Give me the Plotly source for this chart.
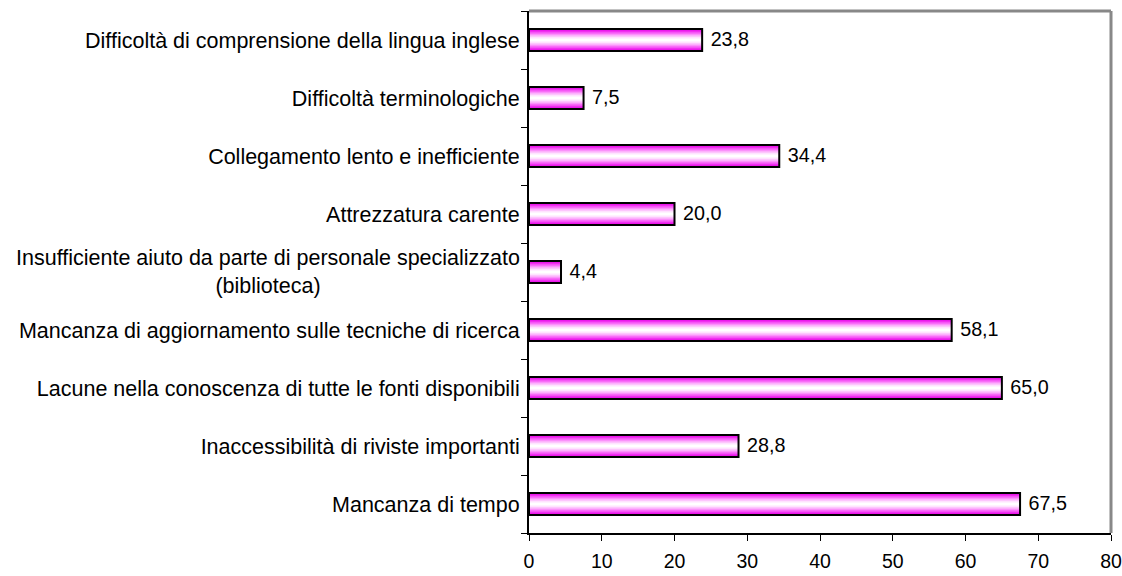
import plotly.graph_objects as go

categorie = [
    "Mancanza di tempo",
    "Inaccessibilità di riviste importanti",
    "Lacune nella conoscenza di tutte le fonti disponibili",
    "Mancanza di aggiornamento sulle tecniche di ricerca",
    "Insufficiente aiuto da parte di personale specializzato (biblioteca)",
    "Attrezzatura carente",
    "Collegamento lento e inefficiente",
    "Difficoltà terminologiche",
    "Difficoltà di comprensione della lingua inglese",
]
percentuali = [67.5, 28.8, 65.0, 58.1, 4.4, 20.0, 34.4, 7.5, 23.8]

etichette = list(categorie)
etichette[4] = ""  # label a due righe disegnata come annotazione centrata

font = "Liberation Sans, Arial, sans-serif"
fs = 21.5
larghezza = 0.38

# sfumatura magenta -> bianco (bordo -> centro) con barre sovrapposte
sfumatura = ["#e600e6", "#f030f0", "#f760f7", "#fb90fb", "#fdbdfd", "#fee3fe", "#ffffff"]

fig = go.Figure()
n = len(sfumatura)
for i, col in enumerate(sfumatura):
    fig.add_trace(go.Bar(
        y=categorie, x=percentuali, orientation="h",
        width=larghezza * (1 - i / n),
        marker=dict(color=col, line=dict(width=0)),
        hoverinfo="skip", showlegend=False,
    ))

# contorno nero e valori
fig.add_trace(go.Bar(
    y=categorie, x=percentuali, orientation="h",
    width=larghezza,
    marker=dict(color="rgba(0,0,0,0)", line=dict(color="black", width=2)),
    text=percentuali, texttemplate=" %{x:.1f}", textposition="outside",
    textfont=dict(family=font, size=fs, color="black"),
    cliponaxis=False, showlegend=False,
))

fig.add_annotation(
    x=0, xref="paper", y=categorie[4], yref="y",
    text="Insufficiente aiuto da parte di personale specializzato<br>(biblioteca)",
    showarrow=False, xanchor="right", align="center", xshift=-7,
    font=dict(family=font, size=fs, color="black"),
)

# bordo superiore e destro grigio
fig.add_shape(type="line", xref="paper", yref="paper", x0=0, x1=1, y0=1, y1=1,
              line=dict(color="#888888", width=3))
fig.add_shape(type="line", xref="paper", yref="paper", x0=1, x1=1, y0=0, y1=1,
              line=dict(color="#888888", width=3))

fig.update_layout(
    width=1122, height=576,
    margin=dict(l=529, r=11, t=11, b=43),
    barmode="overlay",
    separators=",.",
    plot_bgcolor="white", paper_bgcolor="white",
    font=dict(family=font, size=fs, color="black"),
)
fig.update_xaxes(
    range=[0, 80], dtick=10, showgrid=False, zeroline=False, automargin=False,
    showline=True, linecolor="black", linewidth=2,
    ticks="outside", ticklen=6, tickcolor="black", tickwidth=1,
    ticklabeloverflow="allow", ticklabelstandoff=4,
    tickfont=dict(family=font, size=19.5),
)
fig.update_yaxes(
    tickmode="array", tickvals=categorie, ticktext=etichette,
    tickson="boundaries", showgrid=False, automargin=False,
    showline=True, linecolor="black", linewidth=2,
    ticks="outside", ticklen=6, tickcolor="black", tickwidth=1,
    ticklabelstandoff=3,
    tickfont=dict(family=font, size=fs),
)

# niente margine del body: la figura occupa esattamente la finestra
fig.write_html("out.html", config={"displayModeBar": False},
               post_script="document.body.style.margin='0';")
